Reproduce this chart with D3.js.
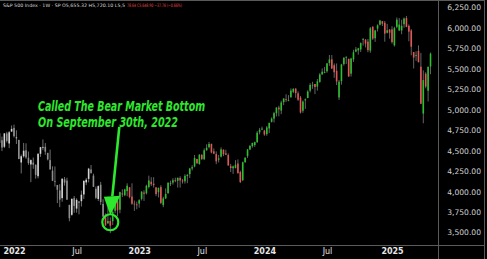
<!DOCTYPE html>
<html>
<head>
<meta charset="utf-8">
<script src="https://cdn.jsdelivr.net/npm/d3@7"></script>
<style>
html,body{margin:0;padding:0;background:#000;}
svg{display:block;}
</style>
</head>
<body>
<svg id="chart" width="487" height="259"></svg>
<script>
(function(){
// weekly bars, first bar = week of 2021-11-15 (Monday), one per week after that
const firstWeek=new Date(2021,10,15);
const opens=[4689,4712,4628,4548,4710,4588,4733,
4778,4655,4632,4356,4431,4505,4413,4332,4354,4328,4188,4462,4541,4547,4474,4385,4256,4130,4081,4014,3920,4151,4134,3838,3716,3920,3792,3880,3883,3965,4112,4155,4270,4195,4034,3910,4084,3849,3682,3610,3640,3638,3765,3882,3779,3978,3956,4006,4053,3939,3853,3843,
3853,3911,3988,3979,4056,4120,4096,4052,3992,4055,3835,3917,3982,4102,4110,4138,4132,4166,4136,4126,4190,4214,4282,4308,4398,4337,4450,4394,4505,4543,4584,4492,4459,4389,4427,4512,4467,4446,4310,4285,4289,4343,4239,4140,4358,4434,4514,4555,4569,4605,4725,4758,
4745,4703,4772,4853,4892,4957,5026,4990,5093,5131,5111,5154,5219,5258,5201,5149,4988,5114,5143,5233,5305,5315,5283,5341,5431,5459,5471,5572,5616,5544,5476,5151,5350,5558,5637,5623,5442,5615,5711,5726,5737,5855,5857,5833,5723,6016,5874,5992,6040,6083,6063,5942,5979,
5982,5788,6014,5970,5969,6046,6121,6026,5969,5705,5658,5719,5527,4954,5441,5233,5529];
const highs=[4718,4744,4672,4713,4731,4740,4808,
4818,4749,4632,4453,4595,4590,4490,4393,4416,4331,4465,4546,4637,4593,4471,4513,4309,4307,4081,4090,4159,4178,4169,3838,3914,3946,3918,3882,4012,4140,4167,4290,4325,4219,4062,4076,4119,3906,3733,3807,3685,3762,3906,3911,3999,4028,4034,4101,4053,4101,3890,3878,
3907,4004,4016,4084,4195,4176,4176,4052,4048,4079,3938,4040,4110,4133,4163,4170,4170,4187,4155,4212,4213,4290,4323,4448,4401,4458,4456,4528,4578,4607,4584,4528,4491,4448,4541,4515,4511,4466,4338,4318,4385,4393,4255,4366,4418,4521,4567,4597,4610,4739,4778,4793,
4755,4802,4842,4907,4975,5030,5049,5111,5141,5190,5179,5261,5265,5264,5225,5169,5114,5139,5239,5325,5342,5315,5376,5447,5505,5524,5570,5670,5669,5566,5566,5364,5562,5644,5651,5623,5636,5733,5767,5757,5822,5878,5863,5865,6012,6018,5978,6044,6099,6085,6085,6050,5986,
6021,6014,6128,6121,6101,6128,6147,6044,5986,5705,5715,5787,5695,5482,5459,5528,5700];
const lows=[4672,4585,4495,4532,4600,4531,4733,
4662,4582,4396,4222,4414,4401,4327,4115,4279,4158,4162,4424,4507,4450,4381,4267,4128,4062,3859,3810,3876,4073,3901,3637,3705,3741,3742,3722,3818,3910,4079,4113,4218,4058,3907,3886,3837,3693,3584,3611,3492,3591,3735,3698,3736,3933,3944,3943,3918,3839,3764,3784,
3803,3892,3886,3965,4038,4067,4049,3944,3928,3847,3809,3908,3971,4069,4085,4114,4049,4048,4098,4098,4103,4166,4259,4297,4337,4328,4385,4390,4499,4528,4467,4457,4335,4356,4416,4433,4448,4317,4238,4216,4283,4223,4104,4128,4355,4411,4510,4537,4546,4593,4699,4751,
4682,4682,4714,4845,4845,4918,4920,4946,5057,5094,5104,5146,5203,5146,5108,4954,4963,5011,5143,5212,5256,5191,5234,5330,5431,5447,5453,5538,5497,5390,5302,5120,5307,5540,5560,5402,5406,5585,5703,5674,5705,5784,5762,5703,5696,5853,5830,5957,6030,6024,5832,5933,5869,
5809,5773,5996,5963,5923,6003,6009,5837,5666,5505,5598,5581,5069,4835,5262,5101,5434];
const closes=[4698,4595,4538,4712,4620,4725,4766,
4677,4662,4398,4432,4500,4418,4349,4385,4329,4204,4463,4543,4546,4488,4393,4272,4132,4123,4023,3901,4158,4109,3901,3675,3912,3825,3899,3863,3962,4130,4145,4280,4228,4058,3924,4067,3873,3693,3586,3640,3583,3753,3901,3771,3993,3965,4026,4072,3934,3852,3845,3840,
3895,3999,3973,4071,4136,4090,4079,3970,4046,3862,3917,3971,4109,4105,4138,4133,4169,4136,4124,4192,4205,4282,4299,4410,4348,4450,4399,4505,4536,4582,4478,4464,4370,4406,4516,4457,4450,4320,4288,4308,4327,4224,4117,4358,4415,4514,4559,4595,4604,4719,4755,4770,
4697,4784,4840,4891,4959,5027,5006,5089,5137,5124,5117,5234,5254,5204,5123,4967,5100,5128,5223,5303,5305,5278,5347,5432,5465,5460,5567,5615,5505,5459,5346,5344,5554,5635,5648,5408,5626,5703,5738,5751,5815,5865,5808,5729,5995,5870,5969,6032,6090,6051,5931,5971,5942,
5827,5997,6101,6041,6026,6115,6013,5955,5770,5639,5668,5581,5074,5363,5283,5525,5686];

const yTicks=[3500,3750,4000,4250,4500,4750,5000,5250,5500,5750,6000,6250];
const xTickDates=[new Date(2022,0,3),new Date(2022,6,4),new Date(2023,0,2),new Date(2023,6,3),new Date(2024,0,1),new Date(2024,6,1),new Date(2025,0,6)];
const xTickLabels=['2022','Jul','2023','Jul','2024','Jul','2025'];
const bottomWeek=new Date(2022,8,26); // bars from here on are coloured
const callout=['Called The Bear Market Bottom','On September 30th, 2022'];
const header=['S&P 500 Index · 1W · SP  O5,655.32  H5,720.10  L5,5','78.64  C5,648.90  −37.76 (−0.66%)'];

const W=487,H=259,plotR=438,plotB=245,axisR=484;
const svg=d3.select('#chart');
svg.append('rect').attr('width',W).attr('height',H).attr('fill','#000');

const x=d3.scaleTime().domain([new Date(2022,0,3),new Date(2025,0,6)]).range([14,392]);
const y=d3.scaleLinear().domain([3500,6250]).range([232.5,7.5]);

const bars=closes.map((c,i)=>({d:d3.timeDay.offset(firstWeek,i*7),o:opens[i],h:highs[i],l:lows[i],c:c}));
const step=x(d3.timeDay.offset(firstWeek,7))-x(firstWeek);
const bw=Math.max(1,step*0.66);

svg.append('clipPath').attr('id','plotclip').append('rect').attr('x',0).attr('y',1).attr('width',plotR).attr('height',plotB-1);
const g=svg.append('g').attr('clip-path','url(#plotclip)');

function bodyCol(b){
  const up=b.c>=b.o;
  if(b.d<bottomWeek)return up?'#d4d4d4':'#8e8e8e';
  return up?'#2cc12c':'#e35656';
}
g.selectAll('line.wick').data(bars).enter().append('line')
  .attr('x1',b=>x(b.d)).attr('x2',b=>x(b.d))
  .attr('y1',b=>y(b.h)).attr('y2',b=>y(b.l))
  .attr('stroke',b=>b.d<bottomWeek?'#8a8a8a':'#7c7c7c').attr('stroke-width',0.8);
g.selectAll('rect.body').data(bars).enter().append('rect')
  .attr('x',b=>x(b.d)-bw/2).attr('width',bw)
  .attr('y',b=>y(Math.max(b.o,b.c)))
  .attr('height',b=>Math.max(0.8,Math.abs(y(b.o)-y(b.c))))
  .attr('fill',bodyCol);

// frame
const fr=svg.append('g').attr('stroke','#5a5a5a').attr('stroke-width',1);
fr.append('line').attr('x1',0).attr('x2',axisR).attr('y1',0.5).attr('y2',0.5);
fr.append('line').attr('x1',plotR+0.5).attr('x2',plotR+0.5).attr('y1',0).attr('y2',H);
fr.append('line').attr('x1',axisR+0.5).attr('x2',axisR+0.5).attr('y1',0).attr('y2',H);
fr.append('line').attr('x1',0).attr('x2',axisR).attr('y1',plotB+0.5).attr('y2',plotB+0.5);

// y axis
const yAx=svg.append('g').attr('transform',`translate(${axisR-3},0)`)
  .call(d3.axisLeft(y).tickValues(yTicks).tickSize(0).tickPadding(0).tickFormat(d3.format(',.2f')));
yAx.select('.domain').remove();
yAx.selectAll('text').attr('fill','#d2d2d2').attr('font-family','DejaVu Sans, sans-serif').attr('font-size',7.6);

// x axis
const xAx=svg.append('g').attr('transform',`translate(0,${plotB})`)
  .call(d3.axisBottom(x).tickValues(xTickDates).tickSize(0).tickPadding(3).tickFormat((d,i)=>xTickLabels[i]));
xAx.select('.domain').remove();
xAx.selectAll('text').attr('fill','#e6e6e6').attr('font-family','DejaVu Sans, sans-serif').attr('font-size',8)
  .attr('font-weight',(d,i)=>xTickLabels[i]==='Jul'?'normal':'bold');

// header (white part then red part)
[[3,122,'#d8d8d8'],[127,55,'#e04a4a']].forEach((p,i)=>{
  svg.append('text').attr('x',p[0]).attr('y',6.5).attr('textLength',p[1]).attr('lengthAdjust','spacingAndGlyphs')
    .attr('font-family','DejaVu Sans, sans-serif').attr('font-size',4.6).attr('fill',p[2]).text(header[i]);
});

// callout
const green='#2ee82e';
const ann=svg.append('g');
const ax=x(new Date(2022,9,10)),ay=y(3625);
ann.append('line').attr('x1',ax+9).attr('y1',y(4790)).attr('x2',ax+2).attr('y2',ay-26)
  .attr('stroke',green).attr('stroke-width',2.6);
ann.append('path').attr('d',`M${ax-6.5},${ay-25.5}L${ax+10},${ay-26.5}L${ax},${ay-7}Z`).attr('fill',green);
ann.append('circle').attr('cx',ax).attr('cy',ay).attr('r',8).attr('fill','none').attr('stroke',green).attr('stroke-width',2.2);
const tl=[[38,111,167],[38,127,140]];
callout.forEach((t,i)=>{
  ann.append('text').attr('x',tl[i][0]).attr('y',tl[i][1]).attr('textLength',tl[i][2]).attr('lengthAdjust','spacingAndGlyphs')
    .attr('font-family','Liberation Sans Narrow, DejaVu Sans Condensed, DejaVu Sans, sans-serif')
    .attr('font-stretch','condensed').attr('font-style','italic').attr('font-weight','bold')
    .attr('font-size',14).attr('fill',green).text(t);
});
})();
</script>
</body>
</html>
